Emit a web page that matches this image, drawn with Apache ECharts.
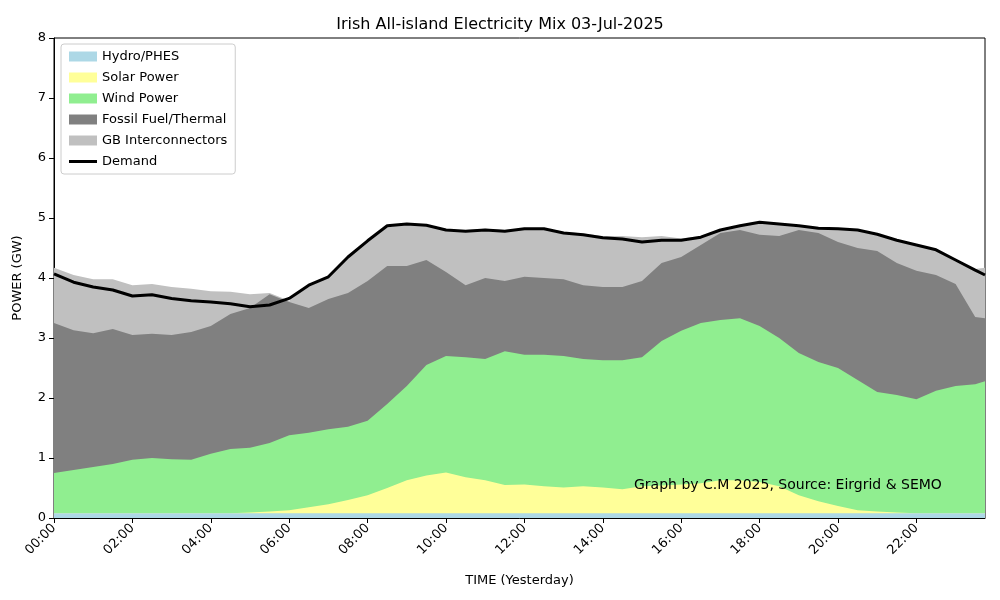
<!DOCTYPE html>
<html><head><meta charset="utf-8">
<script src="https://cdn.jsdelivr.net/npm/echarts@6/dist/echarts.min.js"></script>
<style>html,body{margin:0;padding:0}#c{width:1000px;height:600px}</style></head>
<body><div id="c"></div>
<script>
// hours of day (half-hourly readings, last at 23:45)
const hours = [0,0.5,1,1.5,2,2.5,3,3.5,4,4.5,5,5.5,6,6.5,7,7.5,8,8.5,9,9.5,10,10.5,11,11.5,12,12.5,13,13.5,14,14.5,15,15.5,16,16.5,17,17.5,18,18.5,19,19.5,20,20.5,21,21.5,22,22.5,23,23.5,23.75];
// cumulative tops of each layer (GW)
const hydroTop = hours.map(()=>0.08);
const solarTop = [0.08,0.08,0.08,0.08,0.08,0.08,0.08,0.08,0.08,0.08,0.09,0.11,0.13,0.18,0.23,0.30,0.38,0.50,0.63,0.71,0.76,0.68,0.63,0.55,0.56,0.53,0.51,0.53,0.51,0.48,0.53,0.54,0.56,0.58,0.63,0.63,0.60,0.53,0.38,0.28,0.20,0.13,0.11,0.09,0.08,0.08,0.08,0.08,0.08];
const windTop = [0.75,0.8,0.85,0.9,0.97,1.0,0.98,0.97,1.07,1.15,1.17,1.25,1.38,1.42,1.48,1.52,1.62,1.9,2.2,2.55,2.7,2.68,2.65,2.78,2.72,2.72,2.7,2.65,2.63,2.63,2.68,2.95,3.12,3.25,3.3,3.33,3.2,3.0,2.75,2.6,2.5,2.3,2.1,2.05,1.98,2.12,2.2,2.23,2.28];
const fossilTop = [3.25,3.13,3.08,3.15,3.05,3.07,3.05,3.1,3.2,3.4,3.5,3.73,3.6,3.5,3.65,3.75,3.95,4.2,4.2,4.3,4.1,3.88,4.0,3.95,4.02,4.0,3.98,3.88,3.85,3.85,3.95,4.25,4.35,4.55,4.75,4.8,4.72,4.7,4.8,4.75,4.6,4.5,4.45,4.25,4.12,4.05,3.9,3.35,3.33];
const gbTop = [4.17,4.05,3.98,3.98,3.88,3.9,3.85,3.82,3.78,3.77,3.73,3.75,3.62,3.88,4.02,4.35,4.62,4.87,4.9,4.88,4.8,4.8,4.82,4.8,4.83,4.82,4.77,4.74,4.7,4.7,4.68,4.7,4.66,4.7,4.8,4.87,4.93,4.9,4.87,4.83,4.82,4.8,4.73,4.63,4.55,4.47,4.3,4.15,4.17];
const demand = [4.07,3.93,3.85,3.8,3.7,3.72,3.66,3.62,3.6,3.57,3.52,3.55,3.66,3.88,4.02,4.35,4.62,4.87,4.9,4.88,4.8,4.78,4.8,4.78,4.82,4.82,4.75,4.72,4.67,4.65,4.6,4.63,4.63,4.68,4.8,4.87,4.93,4.9,4.87,4.83,4.82,4.8,4.73,4.63,4.55,4.47,4.3,4.13,4.05];
const pair = a => hours.map((h,i)=>[h,a[i]]);
const area = (name,data,color,z) => ({name,type:'line',data:pair(data),symbol:'none',lineStyle:{width:0},areaStyle:{color,opacity:1},itemStyle:{color},z});
const chart = echarts.init(document.getElementById('c'));
const font = 'DejaVu Sans';
chart.setOption({
  animation:false,
  textStyle:{fontFamily:font},
  title:{text:'Irish All-island Electricity Mix 03-Jul-2025',left:'center',top:12,textStyle:{fontFamily:font,fontSize:16,fontWeight:'normal',color:'#000'}},
  grid:{left:54,right:15,top:38,bottom:82,show:true,borderColor:'#000',borderWidth:1,backgroundColor:'transparent'},
  legend:{left:61,top:44,orient:'vertical',itemGap:8,itemWidth:28,itemHeight:10,backgroundColor:'#fff',borderColor:'#ccc',borderWidth:1,borderRadius:3,padding:[6,8],
    textStyle:{fontFamily:font,fontSize:13,color:'#000'},
    data:[{name:'Hydro/PHES',icon:'rect'},{name:'Solar Power',icon:'rect'},{name:'Wind Power',icon:'rect'},{name:'Fossil Fuel/Thermal',icon:'rect'},{name:'GB Interconnectors',icon:'rect'},{name:'Demand',icon:'path://M0,4 L28,4 L28,7 L0,7 Z'}]},
  xAxis:{type:'value',min:0,max:23.75,interval:2,name:'TIME (Yesterday)',nameLocation:'middle',nameGap:56,nameTextStyle:{fontFamily:font,fontSize:13,color:'#000'},
    axisLine:{lineStyle:{color:'#000'}},axisTick:{show:true,lineStyle:{color:'#000'}},splitLine:{show:false},
    axisLabel:{rotate:45,color:'#000',fontSize:13,fontFamily:font,showMaxLabel:false,formatter:v=>String(v).padStart(2,'0')+':00'}},
  yAxis:{type:'value',min:0,max:8,interval:1,name:'POWER (GW)',nameLocation:'middle',nameGap:30,nameTextStyle:{fontFamily:font,fontSize:13,color:'#000'},
    axisLine:{show:true,lineStyle:{color:'#000'}},axisTick:{show:true,lineStyle:{color:'#000'}},splitLine:{show:false},
    axisLabel:{color:'#000',fontSize:13,fontFamily:font}},
  graphic:[{type:'text',left:634,top:478,style:{text:'Graph by C.M 2025, Source: Eirgrid & SEMO',font:'14px DejaVu Sans',fill:'#000'},z:100}],
  series:[
    area('GB Interconnectors',gbTop,'#c0c0c0',1),
    area('Fossil Fuel/Thermal',fossilTop,'#808080',2),
    area('Wind Power',windTop,'#90ee90',3),
    area('Solar Power',solarTop,'#ffff99',4),
    area('Hydro/PHES',hydroTop,'#add8e6',5),
    {name:'Demand',type:'line',data:pair(demand),symbol:'none',lineStyle:{width:3,color:'#000'},itemStyle:{color:'#000'},z:10}
  ]
});
</script></body></html>
